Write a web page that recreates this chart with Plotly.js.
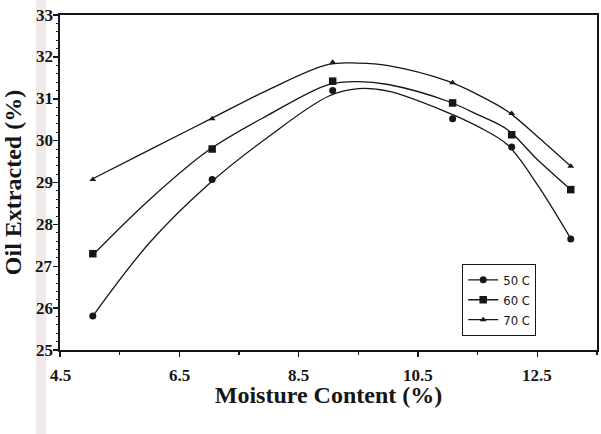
<!DOCTYPE html>
<html>
<head>
<meta charset="utf-8">
<script src="https://cdn.plot.ly/plotly-3.0.1.min.js"></script>
<style>
  html, body { margin: 0; padding: 0; background: #fff; }
  #chart { width: 601px; height: 434px; }
</style>
</head>
<body>
<div id="chart"></div>
<script>
// Measured oil extraction at each moisture content, per temperature
const moisture = [5.05, 7.05, 9.07, 11.08, 12.07, 13.06];
const oil50 = [25.81, 29.07, 31.20, 30.52, 29.85, 27.65];
const oil60 = [27.30, 29.80, 31.42, 30.90, 30.14, 28.83];
const oil70 = [29.07, 30.52, 31.87, 31.38, 30.65, 29.39];

// Fitted trend curves for each temperature
const fitMoisture = [5.05, 6, 7, 8, 9, 9.5, 10, 11, 11.5, 12, 12.5, 13.06];
const fit50 = [25.81, 27.56, 28.97, 30.10, 31.06, 31.24, 31.18, 30.67, 30.34, 29.90, 28.95, 27.66];
const fit60 = [27.27, 28.59, 29.78, 30.62, 31.34, 31.41, 31.34, 30.94, 30.62, 30.26, 29.55, 28.83];
const fit70 = [29.09, 29.78, 30.50, 31.22, 31.82, 31.85, 31.79, 31.42, 31.10, 30.70, 30.10, 29.39];

const seriesLabels = ['50 C', '60 C', '70 C'];
const xTicks = [4.5, 6.5, 8.5, 10.5, 12.5];
const yTicks = [25, 26, 27, 28, 29, 30, 31, 32, 33];

function drawChart() {
  const ink = '#161616';
  const labelFont = { family: 'Liberation Serif', size: 17, color: ink };
  // Separate points with gaps so each legend entry shows a line stroke
  // while no segments are drawn between the measured points.
  const gapped = arr => arr.flatMap((v, i) => (i ? [null, v] : [v]));
  const markerSymbols = ['circle', 'square', 'triangle-up'];
  const markerSizes = [7, 7.5, 6];
  const measured = [oil50, oil60, oil70];
  const curves = [fit50, fit60, fit70];

  const traces = [];
  curves.forEach((f) => {
    traces.push({
      x: fitMoisture, y: f, type: 'scatter', mode: 'lines',
      line: { color: ink, width: 1.3, shape: 'spline', smoothing: 1 },
      showlegend: false, hoverinfo: 'skip'
    });
  });
  measured.forEach((m, i) => {
    traces.push({
      x: gapped(moisture), y: gapped(m), type: 'scatter', mode: 'lines+markers',
      connectgaps: false, name: seriesLabels[i],
      line: { color: ink, width: 1.3 },
      marker: { symbol: markerSymbols[i], size: markerSizes[i], color: ink }
    });
  });

  // Bold serif tick labels, placed on the axes' own scales
  const tickLabels = [];
  xTicks.forEach((v) => {
    tickLabels.push({
      x: v, xref: 'x', y: 0, yref: 'paper', yanchor: 'top', yshift: -14,
      text: '<b>' + v.toFixed(1) + '</b>', showarrow: false, font: labelFont
    });
  });
  yTicks.forEach((v) => {
    tickLabels.push({
      x: 0, xref: 'paper', y: v, yref: 'y', xanchor: 'right', xshift: -5,
      text: '<b>' + v + '</b>', showarrow: false, font: labelFont
    });
  });

  const layout = {
    width: 601, height: 434,
    margin: { l: 60, r: 4, t: 15, b: 84 },
    paper_bgcolor: '#fff', plot_bgcolor: '#fff',
    font: { family: 'Liberation Serif', color: ink, size: 17 },
    showlegend: true,
    legend: {
      x: 0.749, y: 0.257, xanchor: 'left', yanchor: 'top',
      bgcolor: '#fff', bordercolor: ink, borderwidth: 1,
      font: { family: 'DejaVu Sans Condensed, Liberation Sans, sans-serif', size: 13, color: ink }
    },
    xaxis: {
      range: [4.5, 13.5], tickmode: 'array', tickvals: xTicks, showticklabels: false,
      showgrid: false, zeroline: false,
      showline: true, linecolor: ink, linewidth: 2, mirror: true,
      ticks: 'outside', ticklen: 5, tickwidth: 1.5, tickcolor: ink,
      minor: { dtick: 1, tick0: 4.5, ticks: 'outside', ticklen: 3, tickwidth: 1.2, tickcolor: ink },
      title: { text: '<b>Moisture Content (%)</b>', font: { family: 'Liberation Serif', size: 24, color: ink }, standoff: 30 }
    },
    yaxis: {
      range: [25, 33], tickmode: 'array', tickvals: yTicks, showticklabels: false,
      showgrid: false, zeroline: false,
      showline: true, linecolor: ink, linewidth: 2, mirror: true,
      ticks: 'outside', ticklen: 5, tickwidth: 1.5, tickcolor: ink,
      minor: { dtick: 0.2, tick0: 25, ticks: 'outside', ticklen: 2.5, tickwidth: 1, tickcolor: ink },
      title: { text: '<b>Oil Extracted (%)</b>', font: { family: 'Liberation Serif', size: 24, color: ink }, standoff: 26 }
    },
    annotations: tickLabels,
    shapes: [{
      // page gutter shading along the left edge
      type: 'rect', xref: 'paper', yref: 'paper', layer: 'below',
      x0: -0.045, x1: -0.026, y0: -0.26, y1: 1.05,
      fillcolor: 'rgba(200,175,178,0.28)', line: { width: 0 }
    }]
  };

  Plotly.newPlot('chart', traces, layout, { staticPlot: true, displayModeBar: false });
}

drawChart();
</script>
</body>
</html>
